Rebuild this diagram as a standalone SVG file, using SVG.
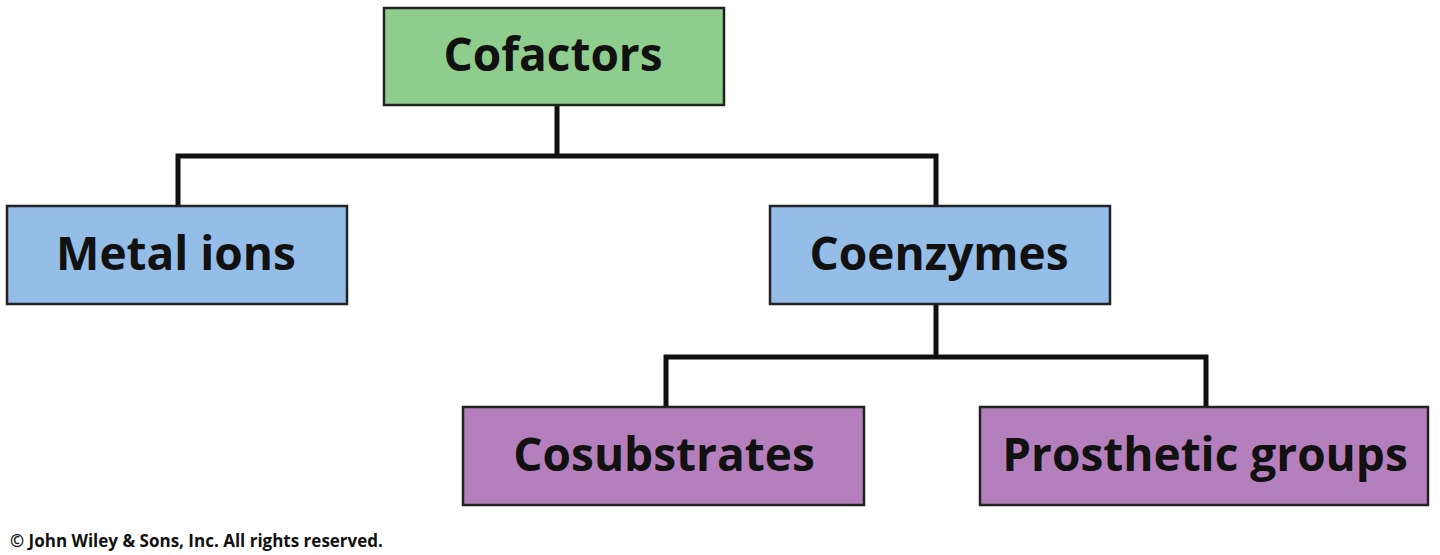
<svg xmlns="http://www.w3.org/2000/svg" width="1440" height="555" viewBox="0 0 1440 555">
<style>
.b{stroke:#222;stroke-width:2.5}
.g{fill:#8fcd8c}.bl{fill:#94bde8}.p{fill:#b57fbd}
text{font-family:"Open Sans","Liberation Sans",sans-serif;font-weight:bold;fill:#111;text-anchor:middle}
.t{font-size:46px}
.c{stroke:#111;stroke-width:5;fill:none}
</style>
<rect width="1440" height="555" fill="#fff"/>
<g id="connectors">
<path class="c" d="M557 105V156M178 206V156H936V206M936 304V357M666 407V357H1206V407"/>
</g>
<g id="cofactors"><rect class="b g" x="384" y="8" width="340" height="97"/><text class="t" x="553" y="71">Cofactors</text></g>
<g id="metal"><rect class="b bl" x="7" y="206" width="340" height="98"/><text class="t" x="176" y="270">Metal ions</text></g>
<g id="coenzymes"><rect class="b bl" x="770" y="206" width="340" height="98"/><text class="t" x="939" y="270">Coenzymes</text></g>
<g id="cosub"><rect class="b p" x="463" y="407" width="401" height="98"/><text class="t" x="664" y="471">Cosubstrates</text></g>
<g id="prosth"><rect class="b p" x="980" y="407" width="448" height="98"/><text class="t" x="1205" y="471">Prosthetic groups</text></g>
<text x="10" y="547" font-size="17" style="text-anchor:start">© John Wiley &amp; Sons, Inc. All rights reserved.</text>
</svg>
